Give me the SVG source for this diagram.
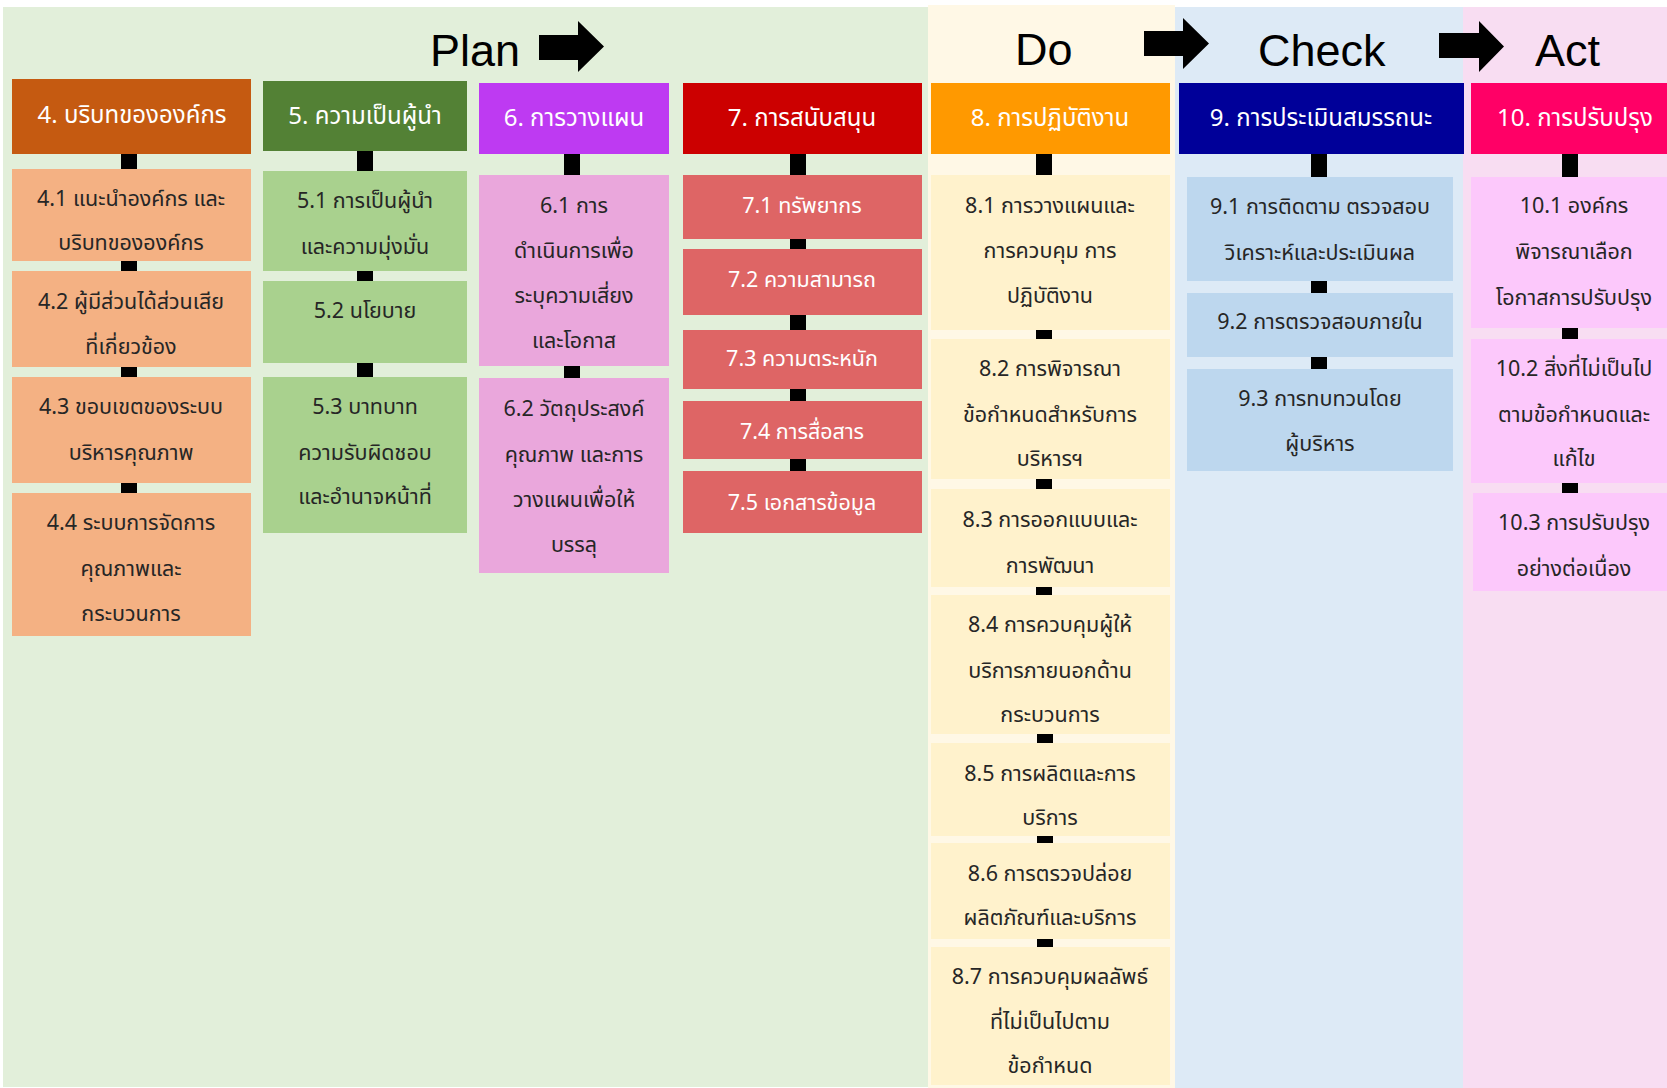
<svg xmlns="http://www.w3.org/2000/svg" width="1667" height="1088" viewBox="0 0 1667 1088">
<style>
.title{font-family:"Liberation Sans",Arial,sans-serif;font-size:45px;fill:#000}
.h{font-family:"Noto Sans Thai","Leelawadee UI","Tahoma","Noto Sans","DejaVu Sans",sans-serif;font-size:24px;fill:#fff;text-anchor:middle}
.s{font-family:"Noto Sans Thai","Leelawadee UI","Tahoma","Noto Sans","DejaVu Sans",sans-serif;font-size:21.5px;fill:#262626;text-anchor:middle}
.sw{fill:#fff}
.c{fill:#000}
</style>
<rect x="0" y="0" width="1667" height="1088" fill="#fff"/>
<g id="backgrounds">
<rect x="3" y="7" width="925" height="1080" fill="#E2EFDA"/>
<rect x="928" y="5" width="247" height="1083" fill="#FFF8E6"/>
<rect x="1175" y="7" width="288" height="1081" fill="#DDEAF6"/>
<rect x="1463" y="7" width="204" height="1081" fill="#F8DDF2"/>
</g>
<g id="titles">
<text class="title" x="430" y="66">Plan</text>
<text class="title" x="1015" y="65">Do</text>
<text class="title" x="1258" y="66">Check</text>
<text class="title" x="1535" y="66">Act</text>
<polygon points="539,35 578,35 578,21 604,46.5 578,72 578,60 539,60" fill="#000"/>
<polygon points="1144,31 1183,31 1183,18 1209,43.5 1183,69 1183,56 1144,56" fill="#000"/>
<polygon points="1439,33 1479,33 1479,21 1504,46.5 1479,72 1479,58 1439,58" fill="#000"/>
</g>
<g id="connectors">
<rect class="c" x="121" y="154" width="16" height="15"/>
<rect class="c" x="121" y="261" width="16" height="10"/>
<rect class="c" x="121" y="367" width="16" height="10"/>
<rect class="c" x="121" y="483" width="16" height="10"/>
<rect class="c" x="357" y="151" width="16" height="20"/>
<rect class="c" x="357" y="271" width="16" height="10"/>
<rect class="c" x="357" y="363" width="16" height="14"/>
<rect class="c" x="564" y="154" width="16" height="21"/>
<rect class="c" x="564" y="366" width="16" height="12"/>
<rect class="c" x="790" y="154" width="16" height="21"/>
<rect class="c" x="790" y="239" width="16" height="10"/>
<rect class="c" x="790" y="315" width="16" height="15"/>
<rect class="c" x="790" y="389" width="16" height="12"/>
<rect class="c" x="790" y="459" width="16" height="12"/>
<rect class="c" x="1036" y="154" width="16" height="21"/>
<rect class="c" x="1036" y="330" width="16" height="9"/>
<rect class="c" x="1036" y="479" width="16" height="10"/>
<rect class="c" x="1036" y="587" width="16" height="8"/>
<rect class="c" x="1037" y="734" width="16" height="9"/>
<rect class="c" x="1037" y="836" width="16" height="7"/>
<rect class="c" x="1037" y="939" width="16" height="8"/>
<rect class="c" x="1311" y="154" width="16" height="23"/>
<rect class="c" x="1311" y="281" width="16" height="12"/>
<rect class="c" x="1311" y="357" width="16" height="12"/>
<rect class="c" x="1562" y="154" width="16" height="23"/>
<rect class="c" x="1562" y="328" width="16" height="11"/>
<rect class="c" x="1562" y="483" width="16" height="10"/>
</g>
<g id="n4"><rect x="12" y="79" width="239" height="75" fill="#C55A11"/><text class="h" x="132" y="123">4. บริบทขององค์กร</text></g>
<g id="n4-1"><rect x="12" y="169" width="239" height="92" fill="#F4B183"/><text class="s" x="131" y="206">4.1 แนะนำองค์กร และ</text><text class="s" x="131" y="250">บริบทขององค์กร</text></g>
<g id="n4-2"><rect x="12" y="271" width="239" height="96" fill="#F4B183"/><text class="s" x="131" y="309">4.2 ผู้มีส่วนได้ส่วนเสีย</text><text class="s" x="131" y="354">ที่เกี่ยวข้อง</text></g>
<g id="n4-3"><rect x="12" y="377" width="239" height="106" fill="#F4B183"/><text class="s" x="131" y="414">4.3 ขอบเขตของระบบ</text><text class="s" x="131" y="460">บริหารคุณภาพ</text></g>
<g id="n4-4"><rect x="12" y="493" width="239" height="143" fill="#F4B183"/><text class="s" x="131" y="530">4.4 ระบบการจัดการ</text><text class="s" x="131" y="576">คุณภาพและ</text><text class="s" x="131" y="621">กระบวนการ</text></g>
<g id="n5"><rect x="263" y="81" width="204" height="70" fill="#538135"/><text class="h" x="365" y="124">5. ความเป็นผู้นำ</text></g>
<g id="n5-1"><rect x="263" y="171" width="204" height="100" fill="#A9D18E"/><text class="s" x="365" y="208">5.1 การเป็นผู้นำ</text><text class="s" x="365" y="254">และความมุ่งมั่น</text></g>
<g id="n5-2"><rect x="263" y="281" width="204" height="82" fill="#A9D18E"/><text class="s" x="365" y="318">5.2 นโยบาย</text></g>
<g id="n5-3"><rect x="263" y="377" width="204" height="156" fill="#A9D18E"/><text class="s" x="365" y="414">5.3 บาทบาท</text><text class="s" x="365" y="460">ความรับผิดชอบ</text><text class="s" x="365" y="504">และอำนาจหน้าที่</text></g>
<g id="n6"><rect x="479" y="83" width="190" height="71" fill="#BE3AF2"/><text class="h" x="574" y="126">6. การวางแผน</text></g>
<g id="n6-1"><rect x="479" y="175" width="190" height="191" fill="#EAA7DC"/><text class="s" x="574" y="213">6.1 การ</text><text class="s" x="574" y="258">ดำเนินการเพื่อ</text><text class="s" x="574" y="303">ระบุความเสี่ยง</text><text class="s" x="574" y="348">และโอกาส</text></g>
<g id="n6-2"><rect x="479" y="378" width="190" height="195" fill="#EAA7DC"/><text class="s" x="574" y="416">6.2 วัตถุประสงค์</text><text class="s" x="574" y="462">คุณภาพ และการ</text><text class="s" x="574" y="507">วางแผนเพื่อให้</text><text class="s" x="574" y="552">บรรลุ</text></g>
<g id="n7"><rect x="683" y="83" width="239" height="71" fill="#CC0000"/><text class="h" x="802" y="126">7. การสนับสนุน</text></g>
<g id="n7-1"><rect x="683" y="175" width="239" height="64" fill="#DE6565"/><text class="s sw" x="802" y="213">7.1 ทรัพยากร</text></g>
<g id="n7-2"><rect x="683" y="249" width="239" height="66" fill="#DE6565"/><text class="s sw" x="802" y="287">7.2 ความสามารถ</text></g>
<g id="n7-3"><rect x="683" y="330" width="239" height="59" fill="#DE6565"/><text class="s sw" x="802" y="366">7.3 ความตระหนัก</text></g>
<g id="n7-4"><rect x="683" y="401" width="239" height="58" fill="#DE6565"/><text class="s sw" x="802" y="439">7.4 การสื่อสาร</text></g>
<g id="n7-5"><rect x="683" y="471" width="239" height="62" fill="#DE6565"/><text class="s sw" x="802" y="510">7.5 เอกสารข้อมูล</text></g>
<g id="n8"><rect x="931" y="83" width="239" height="71" fill="#FF9900"/><text class="h" x="1050" y="126">8. การปฏิบัติงาน</text></g>
<g id="n8-1"><rect x="931" y="175" width="239" height="155" fill="#FFF2CC"/><text class="s" x="1050" y="213">8.1 การวางแผนและ</text><text class="s" x="1050" y="258">การควบคุม การ</text><text class="s" x="1050" y="303">ปฏิบัติงาน</text></g>
<g id="n8-2"><rect x="931" y="339" width="239" height="140" fill="#FFF2CC"/><text class="s" x="1050" y="376">8.2 การพิจารณา</text><text class="s" x="1050" y="422">ข้อกำหนดสำหรับการ</text><text class="s" x="1050" y="466">บริหารฯ</text></g>
<g id="n8-3"><rect x="931" y="489" width="239" height="98" fill="#FFF2CC"/><text class="s" x="1050" y="527">8.3 การออกแบบและ</text><text class="s" x="1050" y="573">การพัฒนา</text></g>
<g id="n8-4"><rect x="931" y="595" width="239" height="139" fill="#FFF2CC"/><text class="s" x="1050" y="632">8.4 การควบคุมผู้ให้</text><text class="s" x="1050" y="678">บริการภายนอกด้าน</text><text class="s" x="1050" y="722">กระบวนการ</text></g>
<g id="n8-5"><rect x="931" y="743" width="239" height="93" fill="#FFF2CC"/><text class="s" x="1050" y="781">8.5 การผลิตและการ</text><text class="s" x="1050" y="825">บริการ</text></g>
<g id="n8-6"><rect x="931" y="843" width="239" height="96" fill="#FFF2CC"/><text class="s" x="1050" y="881">8.6 การตรวจปล่อย</text><text class="s" x="1050" y="925">ผลิตภัณฑ์และบริการ</text></g>
<g id="n8-7"><rect x="931" y="947" width="239" height="138" fill="#FFF2CC"/><text class="s" x="1050" y="984">8.7 การควบคุมผลลัพธ์</text><text class="s" x="1050" y="1029">ที่ไม่เป็นไปตาม</text><text class="s" x="1050" y="1073">ข้อกำหนด</text></g>
<g id="n9"><rect x="1179" y="83" width="285" height="71" fill="#000099"/><text class="h" x="1321" y="126">9. การประเมินสมรรถนะ</text></g>
<g id="n9-1"><rect x="1187" y="177" width="266" height="104" fill="#BDD7EE"/><text class="s" x="1320" y="214">9.1 การติดตาม ตรวจสอบ</text><text class="s" x="1320" y="260">วิเคราะห์และประเมินผล</text></g>
<g id="n9-2"><rect x="1187" y="293" width="266" height="64" fill="#BDD7EE"/><text class="s" x="1320" y="329">9.2 การตรวจสอบภายใน</text></g>
<g id="n9-3"><rect x="1187" y="369" width="266" height="102" fill="#BDD7EE"/><text class="s" x="1320" y="406">9.3 การทบทวนโดย</text><text class="s" x="1320" y="451">ผู้บริหาร</text></g>
<g id="n10"><rect x="1471" y="83" width="196" height="71" fill="#FF0066"/><text class="h" x="1575" y="126">10. การปรับปรุง</text></g>
<g id="n10-1"><rect x="1471" y="177" width="196" height="151" fill="#FCC8FB"/><text class="s" x="1574" y="213">10.1 องค์กร</text><text class="s" x="1574" y="259">พิจารณาเลือก</text><text class="s" x="1574" y="305">โอกาสการปรับปรุง</text></g>
<g id="n10-2"><rect x="1471" y="339" width="196" height="144" fill="#FCC8FB"/><text class="s" x="1574" y="376">10.2 สิ่งที่ไม่เป็นไป</text><text class="s" x="1574" y="422">ตามข้อกำหนดและ</text><text class="s" x="1574" y="466">แก้ไข</text></g>
<g id="n10-3"><rect x="1473" y="493" width="194" height="98" fill="#FCC8FB"/><text class="s" x="1574" y="530">10.3 การปรับปรุง</text><text class="s" x="1574" y="576">อย่างต่อเนื่อง</text></g>
</svg>
